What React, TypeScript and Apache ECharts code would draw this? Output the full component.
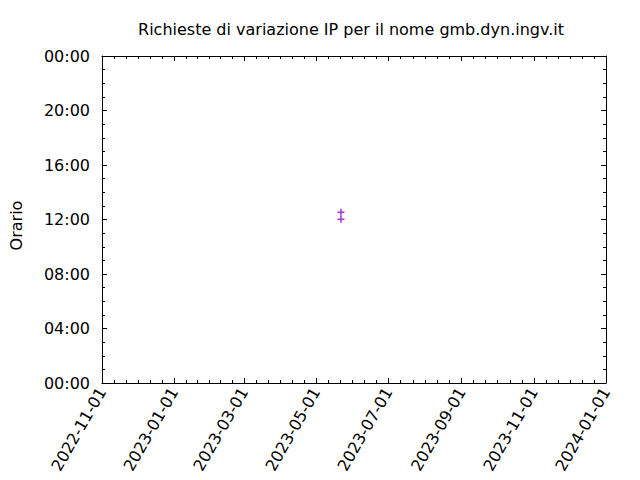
import React, { useEffect, useRef } from "react";
import * as echarts from "echarts";

// ---- data ----
const TITLE = "Richieste di variazione IP per il nome gmb.dyn.ingv.it";
const Y_NAME = "Orario";
const X_TICK_LABELS = [
  "2022-11-01",
  "2023-01-01",
  "2023-03-01",
  "2023-05-01",
  "2023-07-01",
  "2023-09-01",
  "2023-11-01",
  "2024-01-01",
];
const REQ_DATES = ["2023-05-22", "2023-05-22"];
const REQ_TIMES = ["12:01", "12:32"];

const FONT = "'DejaVu Sans', sans-serif";
const FS = 16;
const COLOR = "#9400d3";

const toTs = (d: string) => {
  const [y, m, dd] = d.split("-").map(Number);
  return Date.UTC(y, m - 1, dd);
};
const toHours = (t: string) => {
  const [h, m] = t.split(":").map(Number);
  return h + m / 60;
};
const pad = (n: number) => (n < 10 ? "0" + n : "" + n);

export default function App() {
  const ref = useRef<HTMLDivElement>(null);
  useEffect(() => {
    document.body.style.margin = "0";
    if (!ref.current) return;
    const chart = echarts.init(ref.current, undefined, { renderer: "svg" });

    const majorTs = X_TICK_LABELS.map(toTs);
    const minorTs: number[] = [];
    for (let i = 0; i < majorTs.length - 1; i++) {
      const a = majorTs[i];
      const b = majorTs[i + 1];
      for (let k = 1; k < 6; k++) minorTs.push(a + ((b - a) * k) / 6);
    }
    const xMin = majorTs[0];
    const xMax = majorTs[majorTs.length - 1];

    const black = { color: "#000", width: 1 };
    const fmtDate = (v: number) => {
      const d = new Date(v);
      return `${d.getUTCFullYear()}-${pad(d.getUTCMonth() + 1)}-${pad(d.getUTCDate())}`;
    };

    const xAxisBase = (position: string, minor: boolean, labels: boolean) => ({
      type: "value",
      position,
      min: xMin,
      max: xMax,
      gridIndex: 0,
      axisLine: { show: !minor, onZero: false, lineStyle: black },
      axisTick: {
        show: true,
        inside: true,
        length: minor ? 3 : 5,
        customValues: minor ? minorTs : majorTs,
        lineStyle: black,
      },
      axisLabel: labels
        ? {
            show: true,
            customValues: majorTs,
            rotate: 60,
            formatter: (v: number) => fmtDate(v),
            fontFamily: FONT,
            fontSize: FS,
            color: "#000",
            margin: 6,
          }
        : { show: false },
      splitLine: { show: false },
    });

    const yAxisBase = (position: string, labels: boolean) => ({
      type: "value",
      position,
      min: 0,
      max: 24,
      interval: 4,
      name: labels ? Y_NAME : "",
      nameLocation: "middle",
      nameRotate: 90,
      nameGap: 78,
      nameTextStyle: {
        fontFamily: FONT,
        fontSize: FS,
        color: "#000",
        padding: [0, 12, 0, 0],
      },
      axisLine: { show: true, onZero: false, lineStyle: black },
      axisTick: { show: true, inside: true, length: 5, lineStyle: black },
      minorTick: { show: true, splitNumber: 4, length: 3, lineStyle: black },
      axisLabel: labels
        ? {
            show: true,
            formatter: (v: number) => pad(v % 24) + ":00",
            fontFamily: FONT,
            fontSize: FS,
            color: "#000",
            margin: 12,
          }
        : { show: false },
      splitLine: { show: false },
      minorSplitLine: { show: false },
    });

    const data = REQ_DATES.map((d, i) => [toTs(d), toHours(REQ_TIMES[i])]);

    chart.setOption({
      animation: false,
      backgroundColor: "#fff",
      title: {
        text: TITLE,
        left: 346,
        top: 16,
        textAlign: "center",
        textStyle: {
          fontFamily: FONT,
          fontSize: FS,
          fontWeight: "normal",
          color: "#000",
        },
      },
      grid: { left: 101, right: 34, top: 56, bottom: 97, containLabel: false },
      xAxis: [
        xAxisBase("bottom", false, true),
        xAxisBase("bottom", true, false),
        xAxisBase("top", false, false),
        xAxisBase("top", true, false),
      ],
      yAxis: [yAxisBase("left", true), yAxisBase("right", false)],
      series: [
        {
          type: "scatter",
          xAxisIndex: 0,
          yAxisIndex: 0,
          symbol: "path://M0,3.5L7,3.5M3.5,0L3.5,7",
          symbolSize: 7,
          itemStyle: {
            color: "rgba(0,0,0,0)",
            borderColor: COLOR,
            borderWidth: 1.5,
          },
          data,
        },
      ],
    });
    return () => chart.dispose();
  }, []);
  return <div ref={ref} style={{ width: 640, height: 480 }} />;
}
